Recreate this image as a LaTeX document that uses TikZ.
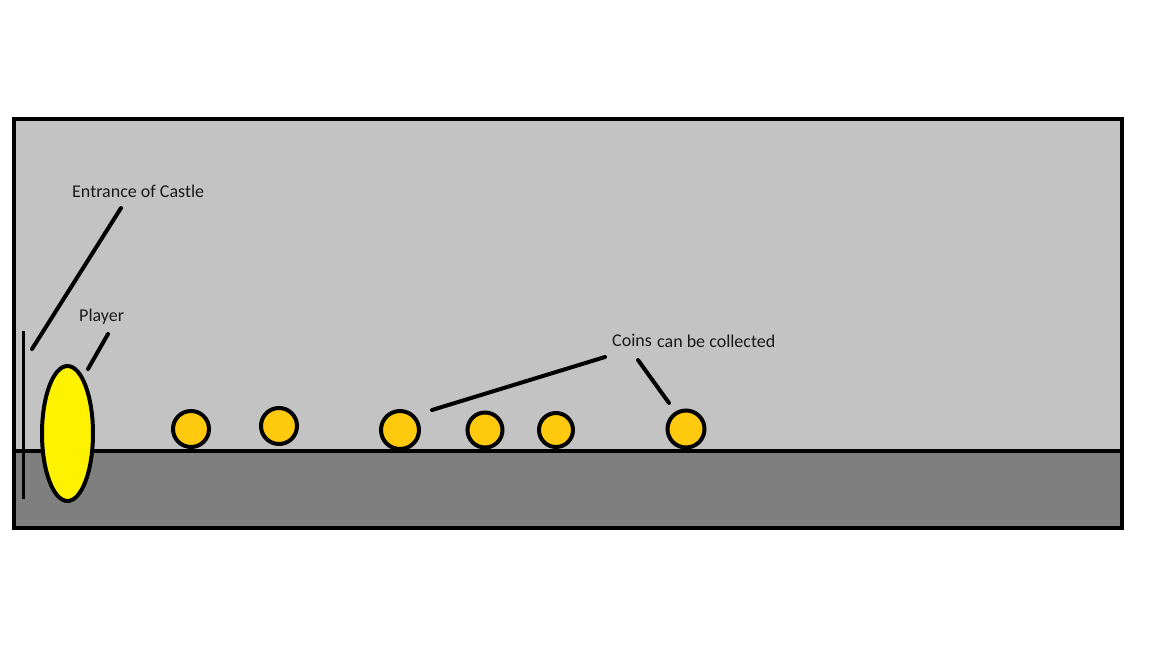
\documentclass[tikz,border=0pt]{standalone}
\usepackage{fontspec}
\setmainfont{Carlito}
\usetikzlibrary{shapes.geometric}
\definecolor{sky}{HTML}{C3C3C3}
\definecolor{ground}{HTML}{7F7F7F}
\definecolor{coinfill}{HTML}{FFC90E}
\definecolor{playerfill}{HTML}{FFF200}
\definecolor{labeltext}{HTML}{1A1A1A}
\begin{document}
\begin{tikzpicture}[x=1pt,y=-1pt,
  outline/.style={line width=4pt},
  pointer/.style={line width=4pt, line cap=round},
  coinnode/.style={circle, draw, line width=4pt, fill=coinfill, inner sep=0pt},
  labelnode/.style={anchor=base west, inner sep=0pt, text=labeltext, font=\fontsize{18}{21}\selectfont}]
\useasboundingbox (0,0) rectangle (1152,648);
\fill[white] (0,0) rectangle (1152,648);
% castle interior and ground
\fill[sky] (14,119) rectangle (1122,451);
\fill[ground] (14,451) rectangle (1122,528);
\draw[outline] (14,451) -- (1122,451);
\draw[outline] (14,119) rectangle (1122,528);
% entrance
\coordinate (entTop) at (23.5,331);
\coordinate (entBot) at (23.5,499);
\draw[line width=3pt] (entTop) -- (entBot);
% player
\node[ellipse, draw, line width=4pt, fill=playerfill, inner sep=0pt,
      minimum width=51pt, minimum height=135pt] (player) at (67.5,433.5) {};
% coins
\node[coinnode, minimum size=36pt] (c1) at (191,429) {};
\node[coinnode, minimum size=36pt] (c2) at (279,426) {};
\node[coinnode, minimum size=38pt] (c3) at (400,430) {};
\node[coinnode, minimum size=35pt] (c4) at (485,430) {};
\node[coinnode, minimum size=34pt] (c5) at (556,430) {};
\node[coinnode, minimum size=37pt] (c6) at (686,429) {};
% labels
\node[labelnode] (lblEntrance) at (72,197) {Entrance of Castle};
\node[labelnode] (lblPlayer) at (79,321) {Player};
\node[labelnode] (lblCoins) at (612,346) {Coins};
\node[labelnode] (lblCollect) at (657,347) {can be collected};
% pointer lines
\coordinate (entA) at (32,349);
\coordinate (entB) at (121,208);
\coordinate (plA) at (88,369);
\coordinate (plB) at (108,334);
\coordinate (coA) at (432,410);
\coordinate (coB) at (605,357);
\coordinate (coC) at (638,360);
\coordinate (coD) at (669,403);
\draw[pointer] (entA) -- (entB);
\draw[pointer] (plA) -- (plB);
\draw[pointer] (coA) -- (coB);
\draw[pointer] (coC) -- (coD);
\end{tikzpicture}
\end{document}
